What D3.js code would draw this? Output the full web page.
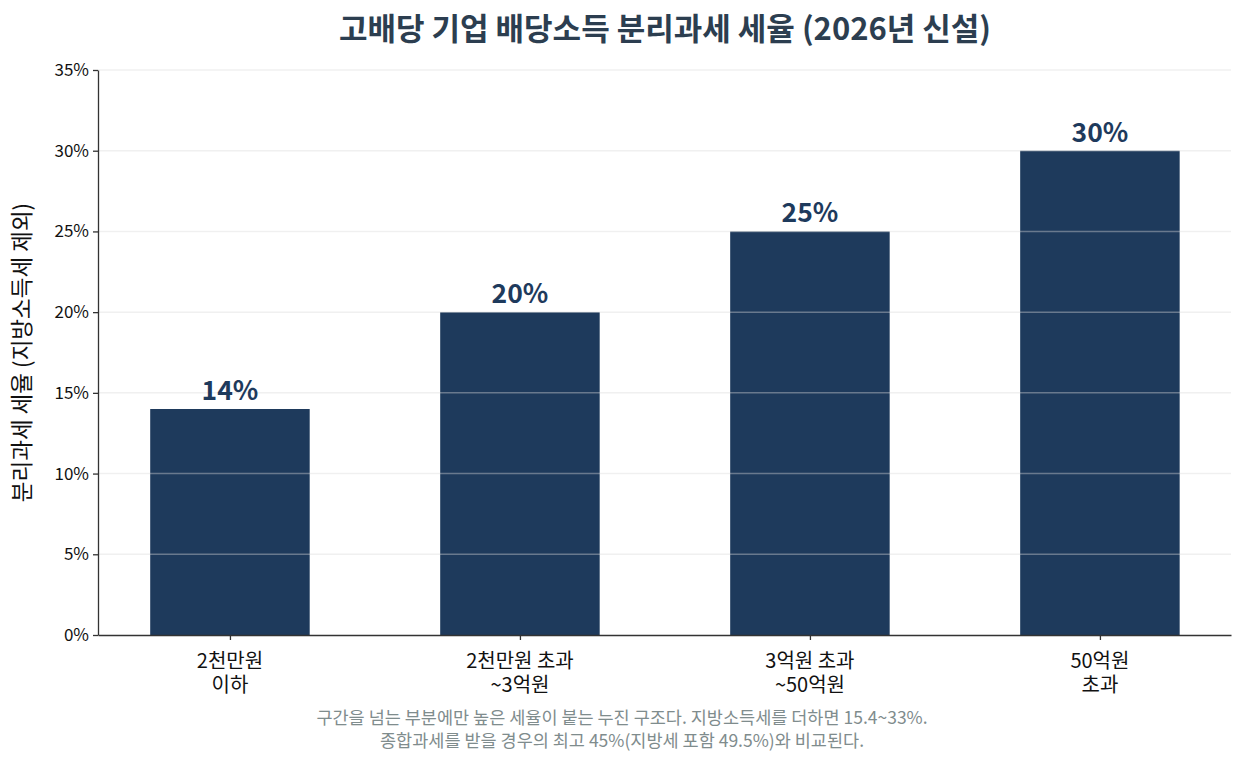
<!DOCTYPE html>
<html>
<head>
<meta charset="utf-8">
<script src="https://cdn.jsdelivr.net/npm/d3@7"></script>
<style>
  body { margin: 0; background: #fff; }
  text { font-family: "Noto Sans CJK KR", "Noto Sans", sans-serif; }
</style>
</head>
<body>
<svg id="chart" width="1245" height="764"></svg>
<script>
// 구간별 세율 데이터
const categories = ["2천만원\n이하", "2천만원 초과\n~3억원", "3억원 초과\n~50억원", "50억원\n초과"];
const rates = [14, 20, 25, 30];
const yTicks = [0, 5, 10, 15, 20, 25, 30, 35];
const footnote = [
    "구간을 넘는 부분에만 높은 세율이 붙는 누진 구조다. 지방소득세를 더하면 15.4~33%.",
    "종합과세를 받을 경우의 최고 45%(지방세 포함 49.5%)와 비교된다."
];

const svg = d3.select("#chart");
const margin = {left: 98, right: 14, top: 70, bottom: 129};
const W = 1245, H = 764;

const x = d3.scaleLinear().domain([-0.455, 3.452]).range([margin.left, W - margin.right]);
const y = d3.scaleLinear().domain([0, 35]).range([H - margin.bottom, margin.top]);
const barW = x(0.55) - x(0);

// 막대
svg.selectAll(".bar")
    .data(rates)
    .enter()
    .append("rect")
    .attr("class", "bar")
    .attr("x", (d, i) => x(i) - barW / 2)
    .attr("y", d => y(d))
    .attr("width", barW)
    .attr("height", d => y(0) - y(d))
    .attr("fill", "#1e3a5c");

// 그리드 (막대 위에 반투명)
svg.append("g")
    .selectAll("line")
    .data(yTicks.slice(1))
    .enter()
    .append("line")
    .attr("x1", margin.left)
    .attr("x2", W - margin.right)
    .attr("y1", d => y(d))
    .attr("y2", d => y(d))
    .attr("stroke", "#d9d9d9")
    .attr("stroke-opacity", 0.4)
    .attr("stroke-width", 1.5);

// y축
const yAxis = svg.append("g")
    .attr("transform", `translate(${margin.left},0)`)
    .call(d3.axisLeft(y).tickValues(yTicks).tickFormat(d => d + "%").tickSize(5).tickSizeOuter(0));
yAxis.select(".domain").attr("stroke", "#333").attr("stroke-width", 1.3);
yAxis.selectAll(".tick line").attr("stroke", "#333").attr("stroke-width", 1.3);
yAxis.selectAll(".tick text").attr("font-size", 17).attr("fill", "#111").attr("x", -9)
    .style("font-family", "'Noto Sans CJK KR', sans-serif");

// x축
const xAxis = svg.append("g")
    .attr("transform", `translate(0,${y(0)})`)
    .call(d3.axisBottom(x).tickValues(d3.range(categories.length)).tickFormat("").tickSize(5).tickSizeOuter(0));
xAxis.select(".domain").attr("stroke", "#333").attr("stroke-width", 1.3);
xAxis.selectAll(".tick line").attr("stroke", "#333").attr("stroke-width", 1.3);

categories.forEach((c, i) => {
    const t = svg.append("text")
        .attr("x", x(i))
        .attr("y", y(0) + 33)
        .attr("text-anchor", "middle")
        .attr("font-size", 20)
        .attr("fill", "#111");
    c.split("\n").forEach((line, j) => {
        t.append("tspan").attr("x", x(i)).attr("dy", j === 0 ? 0 : 24).text(line);
    });
});

// 값 라벨
svg.selectAll(".val")
    .data(rates)
    .enter()
    .append("text")
    .attr("class", "val")
    .attr("x", (d, i) => x(i))
    .attr("y", d => y(d) - 9)
    .attr("text-anchor", "middle")
    .attr("font-size", 26.5)
    .attr("font-weight", "bold")
    .attr("fill", "#1e3a5c")
    .text(d => d + "%");

// 제목
svg.append("text")
    .attr("x", 665)
    .attr("y", 40)
    .attr("text-anchor", "middle")
    .attr("font-size", 31)
    .attr("font-weight", "bold")
    .attr("fill", "#2c3e50")
    .text("고배당 기업 배당소득 분리과세 세율 (2026년 신설)");

// y축 제목
svg.append("text")
    .attr("transform", `translate(30,${(y(0) + y(35)) / 2}) rotate(-90)`)
    .attr("text-anchor", "middle")
    .attr("font-size", 22.5)
    .attr("fill", "#111")
    .text("분리과세 세율 (지방소득세 제외)");

// 주석
footnote.forEach((line, i) => {
    svg.append("text")
        .attr("x", 622)
        .attr("y", 724 + i * 23)
        .attr("text-anchor", "middle")
        .attr("font-size", 17.5)
        .attr("fill", "#7f8c8d")
        .text(line);
});
</script>
</body>
</html>
